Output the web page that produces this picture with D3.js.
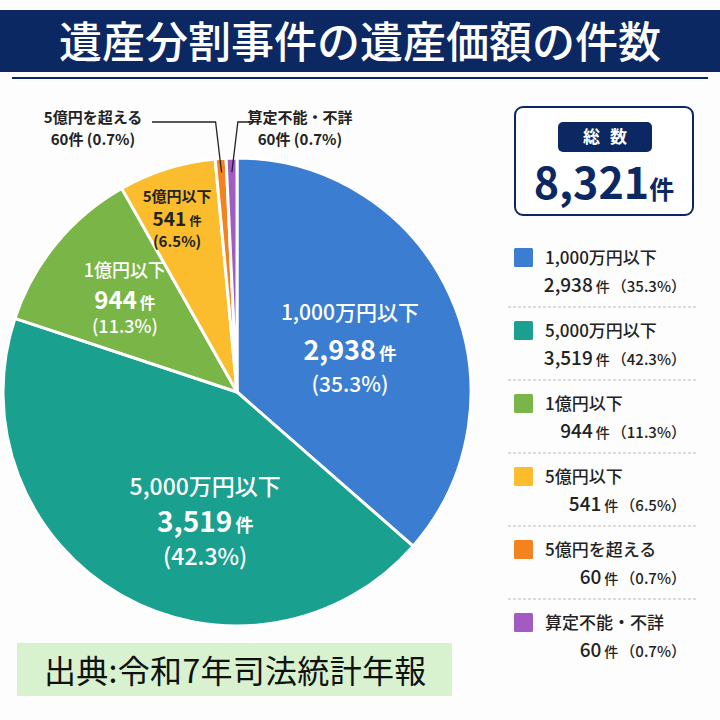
<!DOCTYPE html>
<html>
<head>
<meta charset="utf-8">
<script src="https://cdn.jsdelivr.net/npm/d3@7"></script>
<style>
  body { margin: 0; background: #fff; }
  text { font-family: "Noto Sans CJK JP", "Noto Sans", sans-serif; }
</style>
</head>
<body>
<div id="chart"></div>
<script>
const title = "遺産分割事件の遺産価額の件数";
const source = "出典:令和7年司法統計年報";
const total = 8321;

const categories = ["1,000万円以下", "5,000万円以下", "1億円以下", "5億円以下", "5億円を超える", "算定不能・不詳"];
const counts = [2938, 3519, 944, 541, 60, 60];
const percents = ["35.3", "42.3", "11.3", "6.5", "0.7", "0.7"];
const colors = ["#3b7dd0", "#19a08f", "#7ab547", "#fbbd2e", "#f4821f", "#a15bc1"];

const width = 720;
const height = 720;
const fmt = d3.format(",");

const svg = d3
  .select("#chart")
  .append("svg")
  .attr("width", width)
  .attr("height", height);

svg.append("rect").attr("width", width).attr("height", height).attr("fill", "#fdfdfd");

// title banner
svg.append("rect").attr("x", 0).attr("y", 10).attr("width", width).attr("height", 62).attr("fill", "#0c2862");
svg.append("line")
  .attr("x1", 12).attr("x2", 708).attr("y1", 78).attr("y2", 78)
  .attr("stroke", "#0c2862").attr("stroke-width", 2);
svg.append("text")
  .attr("x", width / 2).attr("y", 58)
  .attr("text-anchor", "middle")
  .attr("fill", "#fff")
  .attr("font-size", "43px")
  .attr("font-weight", 500)
  .text(title);

// pie
const cx = 237, cy = 392, r = 234;
const pie = d3.pie().sort(null).value((d) => d);
const arcs = pie(counts);
const arc = d3.arc().innerRadius(0).outerRadius(r);

const g = svg.append("g").attr("transform", `translate(${cx},${cy})`);

g.selectAll("path")
  .data(arcs)
  .join("path")
  .attr("d", arc)
  .attr("fill", (d, i) => colors[i])
  .attr("stroke", "#fff")
  .attr("stroke-width", 3)
  .attr("stroke-linejoin", "round");

// inner label placement / style per slice
const labelR = [0.515, 0.573, 0.62, 0.78];
const labelShift = [0.07, -0.28, 0, -0.03];
const fs1 = [21, 23, 18, 15];
const fs2 = [27, 28, 24, 19];
const up = [38, 36, 29, 23];
const down = [34, 34, 27, 22];

const lab = g.selectAll("g.lab")
  .data(arcs.slice(0, 4))
  .join("g")
  .attr("class", "lab")
  .attr("transform", (d, i) => {
    const a = (d.startAngle + d.endAngle) / 2 + labelShift[i];
    const rr = r * labelR[i];
    return `translate(${rr * Math.sin(a)},${-rr * Math.cos(a)})`;
  });

lab.each(function (d, i) {
  const t = d3.select(this);
  const small = i === 3;
  const fill = small ? "#222" : "#fff";
  t.append("text")
    .attr("y", -up[i] + fs1[i] * 0.36)
    .attr("text-anchor", "middle")
    .attr("fill", fill)
    .attr("font-size", fs1[i] + "px")
    .attr("font-weight", small ? 700 : 500)
    .text(categories[i]);
  const t2 = t.append("text")
    .attr("y", fs2[i] * 0.36)
    .attr("text-anchor", "middle")
    .attr("fill", fill)
    .attr("font-weight", small ? 700 : 600);
  t2.append("tspan").attr("font-size", fs2[i] + "px").text(fmt(counts[i]));
  t2.append("tspan").attr("font-size", (fs2[i] * 0.65) + "px").attr("dx", 3).text("件");
  t.append("text")
    .attr("y", down[i] + fs1[i] * 0.36)
    .attr("text-anchor", "middle")
    .attr("fill", fill)
    .attr("font-size", fs1[i] + "px")
    .attr("font-weight", small ? 700 : 500)
    .text(`(${percents[i]}%)`);
});

// outside labels for tiny slices
const lineY = -r - 36;
const lineEnd = [-85, 13];
const textX = [-144, 63];
arcs.slice(4).forEach((d, k) => {
  const i = k + 4;
  const a = d3.arc().innerRadius(r - 14).outerRadius(r - 14);
  const [px, py] = a.centroid(d);
  const bendX = px + (k === 0 ? -6 : 6);
  g.append("path")
    .attr("d", d3.line()([[px, py], [bendX, lineY], [lineEnd[k], lineY]]))
    .attr("fill", "none")
    .attr("stroke", "#222")
    .attr("stroke-width", 1.3);
  g.append("text")
    .attr("x", textX[k]).attr("y", lineY + 1)
    .attr("text-anchor", "middle")
    .attr("font-size", "15px")
    .attr("font-weight", 700)
    .attr("fill", "#222")
    .text(categories[i]);
  g.append("text")
    .attr("x", textX[k]).attr("y", lineY + 23)
    .attr("text-anchor", "middle")
    .attr("font-size", "15px")
    .attr("font-weight", 700)
    .attr("fill", "#222")
    .text(`${counts[i]}件 (${percents[i]}%)`);
});

// total box
const box = svg.append("g").attr("transform", "translate(515,107)");
box.append("rect")
  .attr("width", 178).attr("height", 108).attr("rx", 8)
  .attr("fill", "#fff").attr("stroke", "#0c2862").attr("stroke-width", 2);
box.append("rect")
  .attr("x", 43).attr("y", 15).attr("width", 94).attr("height", 30).attr("rx", 5)
  .attr("fill", "#0c2862");
box.append("text")
  .attr("x", 90).attr("y", 36)
  .attr("text-anchor", "middle")
  .attr("fill", "#fff")
  .attr("font-size", "17px")
  .attr("font-weight", 700)
  .attr("letter-spacing", "10px")
  .attr("dx", 5)
  .text("総数");
const tt = box.append("text")
  .attr("x", 89).attr("y", 92)
  .attr("text-anchor", "middle")
  .attr("fill", "#0c2862")
  .attr("font-weight", 700);
tt.append("tspan").attr("font-size", "43px").text(fmt(total));
tt.append("tspan").attr("font-size", "25px").text("件");

// legend
const legend = svg.append("g").attr("transform", "translate(0,248)");
const rowH = 73;
const row = legend.selectAll("g")
  .data(categories)
  .join("g")
  .attr("transform", (d, i) => `translate(0,${i * rowH})`);

row.append("rect")
  .attr("x", 514).attr("y", 0).attr("width", 19).attr("height", 19).attr("rx", 1.5)
  .attr("fill", (d, i) => colors[i]);
row.append("text")
  .attr("x", 545).attr("y", 16)
  .attr("font-size", "17px")
  .attr("font-weight", 500)
  .attr("fill", "#222")
  .text((d) => d);
const l2 = row.append("text")
  .attr("x", 686).attr("y", 44)
  .attr("text-anchor", "end")
  .attr("fill", "#222")
  .attr("font-weight", 500);
l2.append("tspan").attr("font-size", "19px").text((d, i) => fmt(counts[i]));
l2.append("tspan").attr("font-size", "14px").attr("dx", 3).text("件");
l2.append("tspan").attr("font-size", "15px").attr("dx", 2).text((d, i) => `（${percents[i]}%）`);
row.filter((d, i) => i < categories.length - 1)
  .append("line")
  .attr("x1", 508).attr("x2", 698).attr("y1", 59).attr("y2", 59)
  .attr("stroke", "#bbb").attr("stroke-width", 1).attr("stroke-dasharray", "3,2");

// source
svg.append("rect")
  .attr("x", 17).attr("y", 643).attr("width", 435).attr("height", 53)
  .attr("fill", "#d8f1cf");
svg.append("text")
  .attr("x", 44).attr("y", 683)
  .attr("font-size", "32px")
  .attr("letter-spacing", "0.3px")
  .attr("fill", "#111")
  .text(source);
</script>
</body>
</html>
